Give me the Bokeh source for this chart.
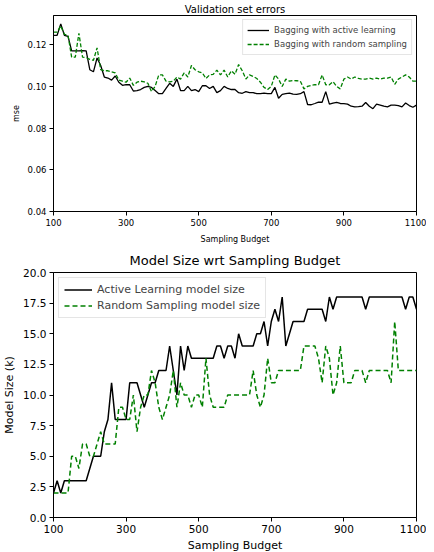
from bokeh.plotting import figure
from bokeh.layouts import column
from bokeh.models import PrintfTickFormatter, FixedTicker, Range1d, Legend, LegendItem
from bokeh.embed import file_html
from bokeh.resources import INLINE

budget = list(range(100, 1101, 10))

mse_active = [
    0.1245, 0.1245, 0.1300, 0.1245, 0.1240, 0.1170, 0.1170, 0.1170, 0.1172, 0.1170,
    0.1080, 0.1070, 0.1136, 0.1100, 0.1045, 0.1040, 0.1030, 0.1050, 0.1020, 0.1005,
    0.1008, 0.1008, 0.0978, 0.0980, 0.0985, 0.0995, 0.1000, 0.0995, 0.0980, 0.0965,
    0.0965, 0.0990, 0.1015, 0.1000, 0.1035, 0.0980, 0.0980, 0.1000, 0.0980, 0.0985,
    0.0975, 0.1003, 0.1003, 0.0990, 0.1000, 0.0970, 0.0980, 0.1000, 0.0990, 0.0985,
    0.0985, 0.0970, 0.0967, 0.0975, 0.0970, 0.0970, 0.0965, 0.0965, 0.0968, 0.0965,
    0.0965, 0.0995, 0.0943, 0.0962, 0.0965, 0.0968, 0.0963, 0.0962, 0.0965, 0.0975,
    0.0913, 0.0912, 0.0918, 0.0925, 0.0924, 0.0975, 0.0915, 0.0920, 0.0923, 0.0918,
    0.0917, 0.0915, 0.0905, 0.0902, 0.0903, 0.0905, 0.0923, 0.0905, 0.0893, 0.0915,
    0.0910, 0.0905, 0.0902, 0.0910, 0.0910, 0.0908, 0.0902, 0.0920, 0.0908, 0.0900,
    0.0910,
]

mse_random = [
    0.1260, 0.1260, 0.1290, 0.1250, 0.1245, 0.1140, 0.1140, 0.1255, 0.1140, 0.1138,
    0.1130, 0.1125, 0.1185, 0.1080, 0.1075, 0.1075, 0.1070, 0.1065, 0.1030, 0.1025,
    0.1020, 0.1040, 0.1005, 0.1020, 0.1025, 0.1022, 0.1015, 0.0975, 0.1000, 0.1055,
    0.1055, 0.1025, 0.1022, 0.1025, 0.1045, 0.1035, 0.1065, 0.1045, 0.1100, 0.1080,
    0.1070, 0.1065, 0.1038, 0.1055, 0.1058, 0.1078, 0.1055, 0.1078, 0.1045, 0.1075,
    0.1058, 0.1105, 0.1075, 0.1035, 0.1055, 0.1048, 0.1038, 0.1020, 0.0995, 0.0985,
    0.1000, 0.1055, 0.1035, 0.1000, 0.1035, 0.1025, 0.1028, 0.1027, 0.1025, 0.0988,
    0.1000, 0.1005, 0.1008, 0.1008, 0.1055, 0.1008, 0.1008, 0.1023, 0.1000, 0.0988,
    0.1035, 0.1045, 0.1035, 0.1045, 0.1038, 0.1035, 0.1035, 0.1040, 0.1035, 0.1040,
    0.1035, 0.1040, 0.1040, 0.1045, 0.1010, 0.1035, 0.1045, 0.1055, 0.1045, 0.1025,
    0.1025,
]

size_active = [
    2, 3, 2, 3, 3, 3, 3, 3, 3, 3,
    4, 5, 5, 5, 7, 8, 11, 8, 8, 8,
    8, 11, 11, 11, 10, 9, 10, 11, 11, 12,
    12, 12, 14, 12, 10, 14, 12, 14, 13, 13,
    13, 13, 13, 13, 13, 14, 14, 13, 14, 14,
    13, 15, 14, 14, 14, 14, 15, 15, 16, 14,
    16, 17, 16, 18, 14, 15, 16, 16, 16, 16,
    17, 17, 17, 17, 17, 16, 18, 17, 18, 18,
    18, 18, 18, 18, 18, 18, 17, 18, 18, 18,
    18, 18, 18, 18, 18, 18, 18, 17, 18, 18,
    17,
]

size_random = [
    2, 2, 2, 2, 2, 5, 5, 4, 6, 6,
    5, 5, 6, 7, 6, 6, 6, 6, 9, 9,
    8, 8, 10, 7, 9, 10, 10, 12, 11, 9,
    8, 9, 10, 12, 9, 11, 10, 10, 9, 10,
    10, 9, 13, 10, 9, 9, 9, 9, 10, 10,
    10, 10, 10, 10, 10, 12, 10, 9, 10, 13,
    11, 11, 12, 12, 12, 12, 12, 12, 12, 14,
    14, 14, 14, 13, 11, 14, 13, 10, 11, 14,
    11, 11, 11, 12, 12, 12, 11, 12, 12, 12,
    12, 12, 12, 11, 16, 12, 12, 12, 12, 12,
    12,
]

x_ticks = [100, 300, 500, 700, 900, 1100]
mse_ticks = [0.04, 0.06, 0.08, 0.10, 0.12]
size_ticks = [0.0, 2.5, 5.0, 7.5, 10.0, 12.5, 15.0, 17.5, 20.0]

FONT = "DejaVu Sans"
GREEN = "#008000"


def style(p, tick_size, label_size, title_size):
    p.title.text_font = FONT
    p.title.text_font_size = title_size
    p.title.text_font_style = "normal"
    p.title.align = "center"
    p.title.text_color = "#000000"
    p.title.standoff = 2
    p.outline_line_color = "#000000"
    p.outline_line_width = 1
    p.xgrid.visible = False
    p.ygrid.visible = False
    for ax in (p.xaxis[0], p.yaxis[0]):
        ax.axis_line_color = "#000000"
        ax.major_tick_line_color = "#000000"
        ax.major_tick_out = 4
        ax.major_tick_in = 0
        ax.minor_tick_line_color = None
        ax.major_label_text_font = FONT
        ax.major_label_text_font_size = tick_size
        ax.major_label_text_color = "#000000"
        ax.axis_label_text_font = FONT
        ax.axis_label_text_font_size = label_size
        ax.axis_label_text_font_style = "normal"
        ax.axis_label_text_color = "#000000"
        ax.axis_label_standoff = 4
        ax.major_label_standoff = 3


# Top chart
p1 = figure(width=426, height=246, output_backend="svg", toolbar_location=None,
            title="Validation set errors",
            x_range=Range1d(100, 1100), y_range=Range1d(0.04, 0.134),
            min_border_left=30, min_border_right=10, min_border_top=0, min_border_bottom=0)
p1.xaxis.axis_label = "Sampling Budget"
p1.yaxis.axis_label = "mse"
p1.xaxis.ticker = FixedTicker(ticks=x_ticks)
p1.yaxis.ticker = FixedTicker(ticks=mse_ticks)
p1.yaxis.formatter = PrintfTickFormatter(format="%.2f")
style(p1, "8.5px", "8px", "10px")
p1.xaxis.axis_label_standoff = 6
r1 = p1.line(budget, mse_active, line_color="#000000", line_width=1.3)
r2 = p1.line(budget, mse_random, line_color=GREEN, line_width=1.3, line_dash="4 2")
leg1 = Legend(items=[LegendItem(label="Bagging with active learning", renderers=[r1]),
                     LegendItem(label="Bagging with random sampling", renderers=[r2])],
              location="top_right")
leg1.label_text_font = FONT
leg1.label_text_font_size = "8.5px"
leg1.label_height = 12
leg1.glyph_height = 12
leg1.glyph_width = 22
leg1.spacing = 2
leg1.padding = 4
leg1.margin = 4
leg1.border_line_color = "#cccccc"
leg1.background_fill_alpha = 0.8
p1.add_layout(leg1)

# Bottom chart
p2 = figure(width=426, height=308, output_backend="svg", toolbar_location=None,
            title="Model Size wrt Sampling Budget",
            x_range=Range1d(100, 1100), y_range=Range1d(0, 20),
            min_border_left=38, min_border_right=6, min_border_top=4, min_border_bottom=0,
            margin=(0, 0, -18, 0))
p2.xaxis.axis_label = "Sampling Budget"
p2.yaxis.axis_label = "Model Size (k)"
p2.xaxis.ticker = FixedTicker(ticks=x_ticks)
p2.yaxis.ticker = FixedTicker(ticks=size_ticks)
p2.yaxis.formatter = PrintfTickFormatter(format="%.1f")
style(p2, "10.5px", "11px", "13px")
p2.title.standoff = 9
p2.xaxis.axis_label_standoff = 3
r3 = p2.line(budget, size_active, line_color="#000000", line_width=1.5)
r4 = p2.line(budget, size_random, line_color=GREEN, line_width=1.5, line_dash="5 3")
leg2 = Legend(items=[LegendItem(label="Active Learning model size", renderers=[r3]),
                     LegendItem(label="Random Sampling model size", renderers=[r4])],
              location="top_left")
leg2.label_text_font = FONT
leg2.label_text_font_size = "11px"
leg2.label_height = 13
leg2.glyph_height = 13
leg2.glyph_width = 28
leg2.spacing = 3
leg2.padding = 5
leg2.margin = 5
leg2.border_line_color = "#cccccc"
leg2.background_fill_alpha = 0.8
p2.add_layout(leg2)

layout = column(p1, p2, spacing=0)
open("out.html", "w").write(file_html(layout, INLINE))
